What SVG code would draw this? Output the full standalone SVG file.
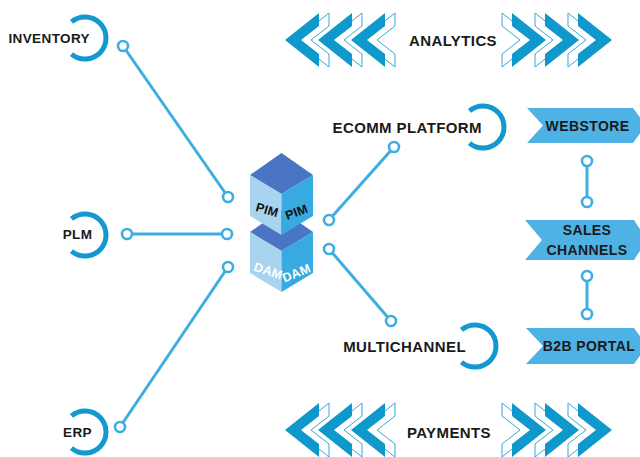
<svg xmlns="http://www.w3.org/2000/svg" xmlns:xlink="http://www.w3.org/1999/xlink" width="640" height="457" viewBox="0 0 640 457">
  <style>
    .lbl { font-family: "Liberation Sans", Arial, sans-serif; font-weight: bold; fill: #1a1a1a; letter-spacing: 0.4px; }
    .arc { fill: none; stroke: #1399cf; stroke-width: 5; }
    .wire { stroke: #3eaee0; stroke-width: 3; fill: none; }
    .dot { fill: #ffffff; stroke: #3eaee0; stroke-width: 2.6; }
    .banner { fill: #4fb2e5; }
    .chev { fill: #0f98cc; }
    .chev-ghost { fill: none; stroke: #3ba5d6; stroke-width: 1; }
    .top { fill: #4a74c4; }
    .left { fill: #a8d4ef; }
    .right { fill: #36aae1; }
    .cube-t { font-family: "Liberation Sans", Arial, sans-serif; font-weight: bold; font-size: 12.5px; letter-spacing: 0.3px; }
  </style>
  <defs>
    <!-- one chevron unit pointing left, tip at origin -->
    <g id="chevron">
      <polygon class="chev-ghost" points="10,0 44,-27 44,-14 26,0 44,14 44,27"/>
      <polygon class="chev" points="0,0 34,-27 34,-14 16,0 34,14 34,27"/>
    </g>
    <g id="chev-left">
      <use xlink:href="#chevron" href="#chevron" x="0"/>
      <use xlink:href="#chevron" href="#chevron" x="33"/>
      <use xlink:href="#chevron" href="#chevron" x="66"/>
    </g>
    <!-- ring open on the left, centred at origin -->
    <path id="ring" class="arc" d="M -13.5 -16.09 A 21 21 0 1 1 -13.5 16.09"/>
  </defs>

  <!-- connectors -->
  <g id="connectors">
    <line class="wire" x1="123" y1="46" x2="228" y2="197"/>
    <line class="wire" x1="127" y1="234" x2="227" y2="234"/>
    <line class="wire" x1="120" y1="427" x2="228" y2="267"/>
    <line class="wire" x1="329" y1="220" x2="394" y2="147"/>
    <line class="wire" x1="329" y1="249" x2="391" y2="321"/>
    <line class="wire" x1="587" y1="161" x2="587" y2="202"/>
    <line class="wire" x1="587" y1="276" x2="587" y2="314"/>
    <circle class="dot" cx="123" cy="46" r="5"/>
    <circle class="dot" cx="228" cy="197" r="5"/>
    <circle class="dot" cx="127" cy="234" r="5"/>
    <circle class="dot" cx="227" cy="234" r="5"/>
    <circle class="dot" cx="120" cy="427" r="5"/>
    <circle class="dot" cx="228" cy="267" r="5"/>
    <circle class="dot" cx="329" cy="220" r="5"/>
    <circle class="dot" cx="394" cy="147" r="5"/>
    <circle class="dot" cx="329" cy="249" r="5"/>
    <circle class="dot" cx="391" cy="321" r="5"/>
    <circle class="dot" cx="587" cy="161" r="5"/>
    <circle class="dot" cx="587" cy="202" r="5"/>
    <circle class="dot" cx="587" cy="276" r="5"/>
    <circle class="dot" cx="587" cy="314" r="5"/>
  </g>

  <!-- sources on the left -->
  <g id="inventory">
    <use xlink:href="#ring" href="#ring" transform="translate(85,38)"/>
    <text class="lbl" x="90" y="43" font-size="13.5" text-anchor="end">INVENTORY</text>
  </g>
  <g id="plm">
    <use xlink:href="#ring" href="#ring" transform="translate(85,235)"/>
    <text class="lbl" x="77.5" y="239" font-size="13.5" text-anchor="middle">PLM</text>
  </g>
  <g id="erp">
    <use xlink:href="#ring" href="#ring" transform="translate(85,432)"/>
    <text class="lbl" x="77.5" y="437" font-size="13.5" text-anchor="middle">ERP</text>
  </g>

  <!-- central PIM / DAM cubes -->
  <g id="dam">
    <polygon class="top" points="281.5,210 313,232 281.5,251 250,232"/>
    <polygon class="left" points="250,232 281.5,251 281.5,292 250,273"/>
    <polygon class="right" points="281.5,251 313,232 313,273 281.5,292"/>
    <text class="cube-t" fill="#ffffff" text-anchor="middle" transform="translate(267,275) rotate(18)">DAM</text>
    <text class="cube-t" fill="#ffffff" text-anchor="middle" transform="translate(298,277) rotate(-22)">DAM</text>
  </g>
  <g id="pim">
    <polygon class="top" points="281.5,153 313,175 281.5,194 250,175"/>
    <polygon class="left" points="250,175 281.5,194 281.5,235 250,216"/>
    <polygon class="right" points="281.5,194 313,175 313,216 281.5,235"/>
    <text class="cube-t" fill="#111111" text-anchor="middle" transform="translate(266,214) rotate(16)">PIM</text>
    <text class="cube-t" fill="#111111" text-anchor="middle" transform="translate(298,216) rotate(-20)">PIM</text>
  </g>

  <!-- channels on the right -->
  <g id="ecomm-platform">
    <use xlink:href="#ring" href="#ring" transform="translate(483,127)"/>
    <text class="lbl" x="482" y="133" font-size="15" text-anchor="end">ECOMM PLATFORM</text>
  </g>
  <g id="multichannel">
    <use xlink:href="#ring" href="#ring" transform="translate(475,346)"/>
    <text class="lbl" x="466" y="352" font-size="15" text-anchor="end">MULTICHANNEL</text>
  </g>

  <g id="webstore">
    <polygon class="banner" points="527,108 633,108 646,125.5 633,143 527,143 543,125.5"/>
    <text class="lbl" x="587.5" y="130.5" font-size="14" text-anchor="middle">WEBSTORE</text>
  </g>
  <g id="sales-channels">
    <polygon class="banner" points="525,220 634,220 647,240 634,260 525,260 542,240"/>
    <text class="lbl" x="587" y="235" font-size="14" text-anchor="middle">SALES</text>
    <text class="lbl" x="587" y="255" font-size="14" text-anchor="middle">CHANNELS</text>
  </g>
  <g id="b2b-portal">
    <polygon class="banner" points="526,328 634,328 647,346 634,364 526,364 543,346"/>
    <text class="lbl" x="589" y="351" font-size="14" text-anchor="middle">B2B PORTAL</text>
  </g>

  <!-- analytics band -->
  <g id="analytics">
    <use xlink:href="#chev-left" href="#chev-left" transform="translate(285,40)"/>
    <use xlink:href="#chev-left" href="#chev-left" transform="translate(612,40) scale(-1,1)"/>
    <text class="lbl" x="453" y="46" font-size="15" text-anchor="middle">ANALYTICS</text>
  </g>

  <!-- payments band -->
  <g id="payments">
    <use xlink:href="#chev-left" href="#chev-left" transform="translate(285,430)"/>
    <use xlink:href="#chev-left" href="#chev-left" transform="translate(612,430) scale(-1,1)"/>
    <text class="lbl" x="449" y="438" font-size="15" text-anchor="middle">PAYMENTS</text>
  </g>
</svg>
